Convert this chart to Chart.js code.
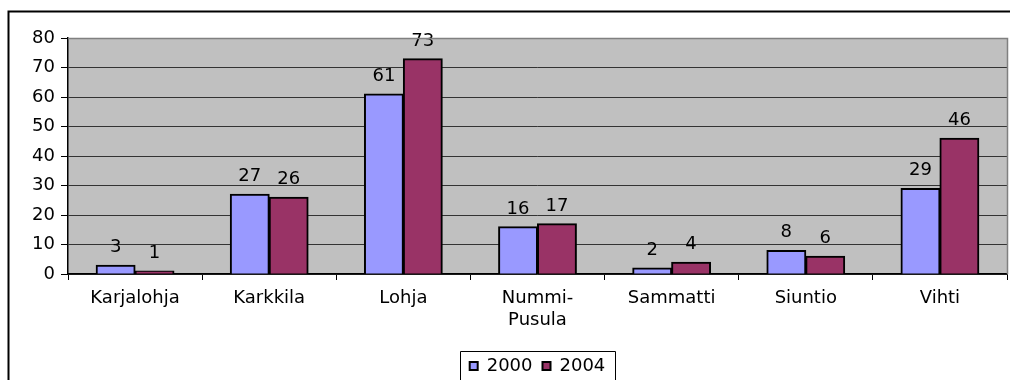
<!DOCTYPE html>
<html>
<head>
<meta charset="utf-8">
<script src="https://cdn.jsdelivr.net/npm/chart.js@4"></script>
<style>
  html, body { margin: 0; padding: 0; background: #fff; }
  #wrap { width: 1010px; height: 380px; position: relative; }
</style>
</head>
<body>
<div id="wrap"><canvas id="chart" width="1010" height="380"></canvas></div>
<script>
const kunnat = ['Karjalohja', 'Karkkila', 'Lohja', ['Nummi-', 'Pusula'], 'Sammatti', 'Siuntio', 'Vihti'];
const arvot2000 = [3, 27, 61, 16, 2, 8, 29];
const arvot2004 = [1, 26, 73, 17, 4, 6, 46];
const vuodet = ['2000', '2004'];

const fontti = { family: '"DejaVu Sans", sans-serif', size: 18 };

// taustat ja kehykset (Excel-tyyli)
const kehys = {
    id: 'kehys',
    afterLayout(chart) {
        // selite keskelle piirtoaluetta
        const a = chart.chartArea, lg = chart.legend;
        const d = (a.left + a.right) / 2 - (lg.left + lg.right) / 2;
        lg.left += d;
        lg.right += d;
    },
    beforeDraw(chart) {
        const { ctx, chartArea: a } = chart;
        ctx.save();
        ctx.fillStyle = '#fff';
        ctx.fillRect(0, 0, chart.width, chart.height);
        ctx.strokeStyle = '#000';
        ctx.lineWidth = 2;
        ctx.beginPath();
        ctx.moveTo(1010, 11.5);
        ctx.lineTo(8.5, 11.5);
        ctx.lineTo(8.5, 380);
        ctx.stroke();
        ctx.fillStyle = '#C0C0C0';
        ctx.fillRect(a.left, a.top, a.right - a.left, a.bottom - a.top);
        ctx.restore();
    },
    afterDraw(chart) {
        const { ctx, chartArea: a } = chart;
        ctx.save();
        ctx.strokeStyle = '#808080';
        ctx.lineWidth = 1.5;
        ctx.beginPath();
        ctx.moveTo(a.left, a.top + 0.5);
        ctx.lineTo(a.right + 0.5, a.top + 0.5);
        ctx.lineTo(a.right + 0.5, a.bottom);
        ctx.stroke();

        // selitteen laatikko
        const boxes = chart.legend.legendHitBoxes;
        if (boxes && boxes.length) {
            const first = boxes[0], last = boxes[boxes.length - 1];
            const l = Math.round(first.left - 10);
            const r = Math.round(last.left + last.width + 10);
            const t = Math.round(first.top + first.height / 2 - 15);
            ctx.strokeStyle = '#000';
            ctx.lineWidth = 1;
            ctx.beginPath();
            ctx.moveTo(l + 0.5, 380);
            ctx.lineTo(l + 0.5, t + 0.5);
            ctx.lineTo(r + 0.5, t + 0.5);
            ctx.lineTo(r + 0.5, 380);
            ctx.stroke();
        }
        ctx.restore();
    },
    afterDatasetsDraw(chart) {
        // arvot pylväiden päälle
        const { ctx } = chart;
        ctx.save();
        ctx.font = '18px "DejaVu Sans", sans-serif';
        ctx.fillStyle = '#000';
        ctx.textAlign = 'center';
        ctx.textBaseline = 'alphabetic';
        chart.data.datasets.forEach((ds, i) => {
            chart.getDatasetMeta(i).data.forEach((bar, j) => {
                ctx.fillText(ds.data[j], bar.x, bar.y - 13);
            });
        });
        ctx.restore();
    }
};

new Chart(document.getElementById('chart'), {
    type: 'bar',
    data: {
        labels: kunnat,
        datasets: [
            { label: vuodet[0], data: arvot2000, backgroundColor: '#9999FF', borderColor: '#000', borderWidth: 2 },
            { label: vuodet[1], data: arvot2004, backgroundColor: '#993366', borderColor: '#000', borderWidth: 2 }
        ]
    },
    options: {
        responsive: false,
        animation: false,
        layout: { padding: { left: 0, right: 3, top: 38, bottom: 0 } },
        datasets: { bar: { categoryPercentage: 0.58, barPercentage: 1, inflateAmount: 0.5 } },
        scales: {
            x: {
                grid: { drawOnChartArea: false, color: '#000', tickLength: 6, lineWidth: 1 },
                border: { color: '#000', width: 1.5 },
                ticks: { color: '#000', font: fontti, padding: 8, maxRotation: 0, autoSkip: false },
                afterFit: (s) => { s.height = 73; }
            },
            y: {
                min: 0,
                max: 80,
                ticks: { stepSize: 10, color: '#000', font: fontti, padding: 6 },
                grid: {
                    color: (c) => c.tick && c.tick.value === 80 ? '#808080' : '#333',
                    tickColor: '#000',
                    tickLength: 7,
                    lineWidth: 1
                },
                border: { color: '#000', width: 1.5 },
                afterFit: (s) => { s.width = 68; }
            }
        },
        plugins: {
            legend: {
                position: 'bottom',
                maxHeight: 33,
                labels: {
                    color: '#000',
                    font: fontti,
                    boxWidth: 8,
                    boxHeight: 8,
                    padding: 10,
                    useBorderRadius: false
                }
            },
            tooltip: { enabled: false }
        }
    },
    plugins: [kehys]
});
</script>
</body>
</html>
